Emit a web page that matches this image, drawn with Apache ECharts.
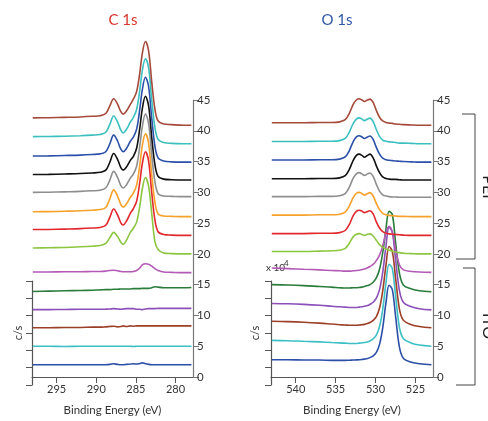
<!DOCTYPE html>
<html><head><meta charset="utf-8">
<script src="https://cdn.jsdelivr.net/npm/echarts@6/dist/echarts.min.js"></script>
<style>html,body{margin:0;padding:0;background:#fff}#c{width:488px;height:421px}</style>
</head><body><div id="c"></div>
<script>
// ---------- C 1s panel ----------
const cEnergy = [298, 296, 294, 292, 290.5, 289.5, 288.8, 288.3, 287.8, 287.3, 286.9, 286.6, 286.2, 285.7, 285.3, 284.9, 284.5, 284.2, 283.8, 283.4, 283.0, 282.6, 282.2, 281.5, 280.5, 279, 278];
// ITO samples (bottom to top)
const cITO1 = [2.0, 2.0, 2.0, 2.0, 2.0, 2.0, 2.0, 2.05, 2.15, 2.05, 2.0, 2.0, 2.05, 2.1, 2.15, 2.1, 2.2, 2.3, 2.15, 2.05, 2.0, 2.0, 2.0, 2.0, 2.0, 2.0, 2.0];
const cITO2 = [5.0, 5.0, 4.95, 5.0, 5.0, 5.0, 5.0, 5.0, 5.0, 5.0, 5.0, 5.0, 5.0, 5.0, 4.95, 5.0, 5.0, 5.0, 5.0, 5.0, 5.0, 5.0, 5.0, 5.0, 5.0, 5.0, 5.0];
const cITO3 = [8.0, 8.0, 8.05, 8.05, 8.1, 8.1, 8.15, 8.2, 8.25, 8.15, 8.2, 8.3, 8.2, 8.3, 8.25, 8.3, 8.3, 8.3, 8.3, 8.3, 8.3, 8.3, 8.3, 8.3, 8.3, 8.3, 8.3];
const cITO4 = [10.95, 10.95, 10.97, 11.0, 11.0, 11.0, 11.02, 11.05, 11.1, 11.05, 11.0, 11.05, 11.1, 11.1, 11.1, 11.0, 11.0, 10.95, 11.05, 11.1, 11.1, 11.1, 11.15, 11.15, 11.15, 11.15, 11.15];
const cITO5 = [13.9, 13.95, 14.0, 14.05, 14.1, 14.15, 14.2, 14.2, 14.25, 14.25, 14.3, 14.3, 14.3, 14.3, 14.35, 14.35, 14.35, 14.4, 14.4, 14.4, 14.5, 14.65, 14.6, 14.5, 14.5, 14.5, 14.55];
const cITO6 = [17.05, 17.05, 17.1, 17.1, 17.15, 17.15, 17.2, 17.3, 17.35, 17.25, 17.15, 17.1, 17.1, 17.1, 17.15, 17.3, 17.7, 18.2, 18.4, 18.3, 18.0, 17.6, 17.3, 17.05, 17.0, 16.95, 16.95];
// PEI samples (bottom to top)
const cPEI1 = [20.95, 21.0, 21.05, 21.15, 21.25, 21.35, 21.7, 22.6, 23.5, 22.8, 21.9, 21.55, 22.2, 23.5, 24.2, 25.2, 27.8, 30.5, 32.4, 31.0, 26.5, 22.0, 20.7, 20.15, 20.05, 20.0, 20.0];
const cPEI2 = [23.95, 23.97, 24.03, 24.1, 24.2, 24.3, 24.65, 25.9, 27.3, 26.3, 25.05, 24.7, 25.3, 26.6, 27.4, 28.6, 31.7, 34.6, 36.6, 35.1, 29.9, 25.5, 23.6, 23.15, 23.05, 23.0, 23.0];
const cPEI3 = [26.85, 26.87, 26.93, 27.0, 27.1, 27.2, 27.55, 28.9, 30.4, 29.35, 28.0, 27.6, 28.1, 29.2, 29.9, 31.2, 34.5, 37.5, 39.5, 38.0, 32.8, 28.4, 26.5, 26.15, 26.1, 26.05, 26.05];
const cPEI4 = [30.0, 30.02, 30.08, 30.15, 30.25, 30.35, 30.7, 31.95, 33.4, 32.4, 31.1, 30.7, 31.2, 32.3, 33.0, 34.3, 37.6, 40.6, 42.7, 41.2, 36.0, 31.7, 29.8, 29.4, 29.35, 29.3, 29.3];
const cPEI5 = [32.9, 32.92, 32.98, 33.05, 33.15, 33.25, 33.6, 34.85, 36.3, 35.3, 34.0, 33.6, 34.1, 35.2, 35.9, 37.2, 40.5, 43.5, 45.6, 44.1, 38.9, 34.5, 32.6, 32.15, 32.05, 32.0, 32.0];
const cPEI6 = [35.9, 35.92, 35.98, 36.05, 36.15, 36.25, 36.6, 37.85, 39.3, 38.3, 37.0, 36.6, 37.1, 38.3, 39.0, 40.3, 43.6, 46.6, 48.7, 47.2, 42.0, 37.5, 35.6, 35.1, 34.95, 34.9, 34.9];
const cPEI7 = [39.05, 39.07, 39.12, 39.2, 39.3, 39.4, 39.75, 41.0, 42.4, 41.4, 40.1, 39.65, 40.2, 41.4, 42.2, 43.5, 46.7, 49.7, 51.7, 50.2, 45.0, 40.5, 38.6, 38.1, 37.95, 37.9, 37.9];
const cPEI8 = [42.1, 42.12, 42.18, 42.25, 42.35, 42.45, 42.8, 44.0, 45.2, 44.3, 43.1, 42.7, 43.2, 44.3, 45.2, 46.4, 49.5, 52.5, 54.5, 53.0, 47.9, 43.5, 41.6, 41.1, 41.0, 40.9, 40.9];

// ---------- O 1s panel ----------
const oEnergy = [543, 541, 539, 537, 535.5, 534.5, 533.8, 533.3, 532.8, 532.4, 532.05, 531.7, 531.4, 531.0, 530.7, 530.3, 529.9, 529.5, 529.1, 528.7, 528.3, 527.9, 527.5, 527.0, 526.5, 525.5, 524.5, 523];
const oITO1 = [2.8, 2.8, 2.75, 2.75, 2.7, 2.7, 2.7, 2.72, 2.75, 2.78, 2.8, 2.85, 2.9, 3.0, 3.15, 3.45, 4.0, 5.3, 8.0, 12.0, 14.9, 14.2, 10.0, 4.8, 3.0, 2.4, 2.15, 2.0];
const oITO2 = [5.95, 5.9, 5.8, 5.7, 5.6, 5.55, 5.5, 5.45, 5.45, 5.45, 5.5, 5.55, 5.6, 5.7, 5.85, 6.2, 6.8, 8.2, 11.0, 15.2, 18.3, 17.6, 13.3, 8.0, 6.2, 5.5, 5.2, 5.0];
const oITO3 = [9.05, 9.0, 8.9, 8.75, 8.6, 8.5, 8.45, 8.4, 8.4, 8.4, 8.45, 8.5, 8.55, 8.7, 8.85, 9.2, 9.8, 11.2, 14.0, 18.1, 21.2, 20.4, 16.2, 11.0, 9.2, 8.5, 8.2, 8.0];
const oITO4 = [11.95, 11.9, 11.8, 11.65, 11.5, 11.4, 11.35, 11.3, 11.3, 11.3, 11.35, 11.4, 11.5, 11.6, 11.8, 12.15, 12.8, 14.2, 17.0, 21.2, 24.3, 23.5, 19.2, 14.0, 12.1, 11.4, 11.1, 10.9];
const oITO5 = [15.0, 14.95, 14.85, 14.7, 14.6, 14.5, 14.45, 14.45, 14.5, 14.5, 14.55, 14.6, 14.7, 14.85, 15.0, 15.4, 16.1, 17.5, 20.2, 24.0, 26.9, 26.4, 22.0, 16.8, 14.9, 14.3, 14.0, 13.85];
const oITO6 = [17.7, 17.6, 17.5, 17.4, 17.3, 17.25, 17.2, 17.2, 17.25, 17.3, 17.35, 17.45, 17.55, 17.75, 17.95, 18.3, 18.9, 19.8, 21.3, 23.4, 24.5, 23.6, 20.8, 18.2, 17.4, 17.15, 17.05, 17.0];
const oPEI1 = [20.4, 20.4, 20.4, 20.45, 20.5, 20.6, 20.9, 21.7, 22.8, 23.2, 23.3, 23.15, 23.0, 23.2, 23.25, 22.9, 22.2, 21.5, 21.1, 20.8, 20.6, 20.45, 20.3, 20.2, 20.1, 20.05, 20.0, 20.0];
const oPEI2 = [23.3, 23.3, 23.3, 23.35, 23.35, 23.45, 23.8, 24.75, 26.2, 26.9, 27.1, 26.95, 26.7, 26.9, 27.0, 26.5, 25.2, 24.2, 23.6, 23.35, 23.25, 23.2, 23.15, 23.1, 23.05, 23.0, 23.0, 23.0];
const oPEI3 = [26.3, 26.3, 26.3, 26.35, 26.35, 26.45, 26.8, 27.75, 29.15, 29.85, 30.0, 29.8, 29.55, 29.8, 29.95, 29.4, 28.2, 27.2, 26.6, 26.35, 26.25, 26.2, 26.15, 26.1, 26.1, 26.05, 26.05, 26.05];
const oPEI4 = [29.3, 29.3, 29.3, 29.35, 29.35, 29.45, 29.8, 30.8, 32.3, 33.0, 33.2, 33.0, 32.75, 33.0, 33.15, 32.6, 31.3, 30.2, 29.6, 29.4, 29.3, 29.25, 29.25, 29.2, 29.2, 29.2, 29.2, 29.2];
const oPEI5 = [32.2, 32.2, 32.2, 32.25, 32.25, 32.35, 32.7, 33.7, 35.2, 36.0, 36.2, 36.0, 35.7, 36.0, 36.2, 35.6, 34.3, 33.2, 32.5, 32.25, 32.15, 32.1, 32.1, 32.05, 32.0, 32.0, 32.0, 32.0];
const oPEI6 = [35.25, 35.25, 35.25, 35.3, 35.3, 35.4, 35.75, 36.75, 38.25, 39.0, 39.2, 39.0, 38.75, 39.0, 39.15, 38.6, 37.3, 36.2, 35.55, 35.3, 35.2, 35.15, 35.1, 35.05, 35.0, 34.95, 34.9, 34.9];
const oPEI7 = [38.25, 38.25, 38.25, 38.3, 38.3, 38.4, 38.75, 39.75, 41.2, 41.9, 42.1, 41.9, 41.65, 41.9, 42.05, 41.5, 40.2, 39.1, 38.5, 38.3, 38.2, 38.15, 38.1, 38.0, 38.0, 37.95, 37.9, 37.9];
const oPEI8 = [41.3, 41.3, 41.3, 41.35, 41.35, 41.45, 41.8, 42.8, 44.3, 45.0, 45.2, 45.0, 44.75, 45.0, 45.15, 44.6, 43.3, 42.2, 41.6, 41.35, 41.25, 41.2, 41.1, 41.05, 41.0, 40.95, 40.9, 40.9];

// tick labels
const cTicks = [280, 285, 290, 295];
const oTicks = [525, 530, 535, 540];
const titles = ['C 1s', 'O 1s'];
const groupLabels = ['PEI', 'ITO'];

// ---------- styling ----------
const itoColors = ['#2b4ea6', '#3cc0c4', '#9c3f27', '#8a4fb9', '#2a7c3b', '#b25ab6'];
const peiColors = ['#8cc63f', '#e2282c', '#f7a12a', '#8e8e8e', '#111111', '#2c50a8', '#3cbfbf', '#a5493a'];
const FONT = 'Lato, "Open Sans", sans-serif';

const chart = echarts.init(document.getElementById('c'));
function mk(xs, ys) { return xs.map((x, i) => [x, ys[i]]); }
const series = [];
function add(xs, list, colors, gi) {
  list.forEach((ys, i) => series.push({
    type: 'line', xAxisIndex: gi, yAxisIndex: gi, data: mk(xs, ys),
    showSymbol: false, smooth: 0.35, clip: false, silent: true,
    lineStyle: { color: colors[i], width: 1.6 }, animation: false
  }));
}
add(cEnergy, [cITO1, cITO2, cITO3, cITO4, cITO5, cITO6], itoColors, 0);
add(cEnergy, [cPEI1, cPEI2, cPEI3, cPEI4, cPEI5, cPEI6, cPEI7, cPEI8], peiColors, 0);
add(oEnergy, [oITO1, oITO2, oITO3, oITO4, oITO5, oITO6], itoColors, 1);
add(oEnergy, [oPEI1, oPEI2, oPEI3, oPEI4, oPEI5, oPEI6, oPEI7, oPEI8], peiColors, 1);

function mainX(gi, min, max, ticks) {
  return {
    gridIndex: gi, type: 'value', inverse: true, min: min, max: max,
    axisLine: { show: true, onZero: false, lineStyle: { color: '#555', width: 1.2 } },
    axisTick: { show: true, length: 6, customValues: ticks, lineStyle: { color: '#555' } },
    axisLabel: { customValues: ticks, color: '#333', fontSize: 11, margin: 7, fontFamily: FONT },
    splitLine: { show: false },
    name: 'Binding Energy (eV)', nameLocation: 'middle', nameGap: 27,
    nameTextStyle: { color: '#333', fontSize: 11.5, fontFamily: FONT }
  };
}
function mainY(gi) {
  return {
    gridIndex: gi, type: 'value', position: 'right', min: 0, max: 45, interval: 5,
    axisLine: { show: true, onZero: false, lineStyle: { color: '#777', width: 1.2 } },
    axisTick: { show: true, length: 6, lineStyle: { color: '#777' } },
    axisLabel: { color: '#333', fontSize: 11.5, margin: 4, fontFamily: FONT },
    splitLine: { show: false }
  };
}
function innerY(gi, gap) {
  return {
    gridIndex: gi, type: 'value', position: 'left', min: 0, max: 6, interval: 1,
    axisLine: { show: true, onZero: false, lineStyle: { color: '#555', width: 1.2 } },
    axisTick: { show: true, length: 6, lineStyle: { color: '#555' } },
    axisLabel: { show: false }, splitLine: { show: false },
    name: 'c/s', nameLocation: 'middle', nameGap: gap, nameRotate: 90,
    nameTextStyle: { color: '#333', fontSize: 11, fontFamily: FONT }
  };
}
function hiddenX(gi, min, max) { return { gridIndex: gi, type: 'value', show: false, min: min, max: max, inverse: true }; }

const option = {
  backgroundColor: '#fff',
  animation: false,
  grid: [
    { left: 32, top: 100, width: 161, height: 285 },
    { left: 271, top: 100, width: 162, height: 285 },
    { left: 32, top: 281, width: 161, height: 104 },
    { left: 271, top: 281, width: 162, height: 104 }
  ],
  xAxis: [mainX(0, 277.8, 298.1, cTicks), mainX(1, 522.8, 543.1, oTicks), hiddenX(2, 277.8, 298.1), hiddenX(3, 522.8, 543.1)],
  yAxis: [mainY(0), mainY(1), innerY(2, 8), innerY(3, 10)],
  series: series,
  graphic: [
    { type: 'text', x: 123, y: 20, style: { text: titles[0], fill: '#d9352c', fontSize: 15, fontFamily: FONT, align: 'center', verticalAlign: 'middle' } },
    { type: 'text', x: 337, y: 20, style: { text: titles[1], fill: '#2f55a5', fontSize: 15, fontFamily: FONT, align: 'center', verticalAlign: 'middle' } },
    { type: 'polyline', shape: { points: [[462, 114], [475, 114], [475, 259], [456, 259]] }, style: { stroke: '#444', lineWidth: 1, fill: null } },
    { type: 'polyline', shape: { points: [[463, 268], [475, 268], [475, 385], [456, 385]] }, style: { stroke: '#444', lineWidth: 1, fill: null } },
    { type: 'text', x: 480, y: 187, rotation: -Math.PI / 2, style: { text: groupLabels[0], fill: '#222', fontSize: 16, fontFamily: FONT, align: 'center', verticalAlign: 'bottom' } },
    { type: 'text', x: 480, y: 326, rotation: -Math.PI / 2, style: { text: groupLabels[1], fill: '#222', fontSize: 16, fontFamily: FONT, align: 'center', verticalAlign: 'bottom' } },
    { type: 'text', x: 266, y: 268, style: { text: 'x 10', fill: '#333', fontSize: 10, fontFamily: FONT, align: 'left', verticalAlign: 'middle' } },
    { type: 'text', x: 284, y: 263, style: { text: '4', fill: '#333', fontSize: 8, fontFamily: FONT, align: 'left', verticalAlign: 'middle' } }
  ]
};
chart.setOption(option);
</script></body></html>
